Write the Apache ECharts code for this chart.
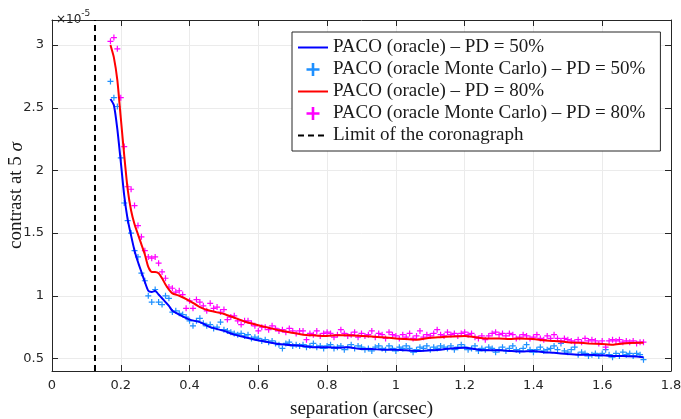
<!DOCTYPE html>
<html>
<head>
<meta charset="utf-8">
<title>contrast vs separation</title>
<script src="https://cdn.jsdelivr.net/npm/echarts@6/dist/echarts.min.js"></script>
<style>
html, body { margin: 0; padding: 0; background: #fff; }
#chart { width: 681px; height: 419px; }
</style>
</head>
<body>
<div id="chart"></div>
<script>
// smooth curves (contrast in units of 1e-5)
var lineSep = [0.17, 0.18, 0.19, 0.20, 0.21, 0.22, 0.23, 0.24, 0.25, 0.26,
  0.27, 0.28, 0.29, 0.30, 0.31, 0.32, 0.33, 0.34, 0.35,
  0.37, 0.40, 0.43, 0.46, 0.50, 0.53, 0.56, 0.60, 0.63, 0.66,
  0.70, 0.73, 0.76, 0.80, 0.83, 0.86, 0.90, 0.93, 0.96, 1.00,
  1.03, 1.06, 1.10, 1.13, 1.16, 1.20, 1.23, 1.26, 1.30, 1.33,
  1.36, 1.40, 1.43, 1.46, 1.50, 1.53, 1.56, 1.60, 1.63, 1.66,
  1.70, 1.72];
var oracle50 = [2.57, 2.52, 2.33, 2.07, 1.80, 1.61, 1.48, 1.36, 1.27, 1.19,
  1.11, 1.04, 1.03, 1.04, 1.01, 0.98, 0.95, 0.92, 0.88,
  0.85, 0.81, 0.79, 0.75, 0.72, 0.69, 0.67, 0.645, 0.63, 0.615,
  0.605, 0.60, 0.59, 0.59, 0.585, 0.59, 0.575, 0.575, 0.57, 0.57,
  0.565, 0.56, 0.565, 0.57, 0.58, 0.585, 0.575, 0.565, 0.565, 0.56,
  0.555, 0.56, 0.55, 0.545, 0.535, 0.53, 0.53, 0.525, 0.52, 0.52,
  0.515, 0.51];
var oracle80 = [3.00, 2.90, 2.72, 2.42, 2.12, 1.85, 1.68, 1.57, 1.49, 1.41,
  1.33, 1.23, 1.19, 1.19, 1.18, 1.14, 1.09, 1.05, 1.02,
  1.00, 0.96, 0.91, 0.88, 0.855, 0.825, 0.795, 0.765, 0.745, 0.725,
  0.705, 0.69, 0.685, 0.68, 0.685, 0.685, 0.68, 0.675, 0.67, 0.66,
  0.655, 0.65, 0.665, 0.67, 0.675, 0.68, 0.67, 0.66, 0.66, 0.655,
  0.66, 0.655, 0.645, 0.64, 0.63, 0.625, 0.62, 0.615, 0.61, 0.62,
  0.625, 0.625];

// monte carlo points
var mcSep = [0.17, 0.18, 0.19, 0.20, 0.21, 0.22, 0.23, 0.24, 0.25, 0.26,
  0.27, 0.28, 0.29, 0.30, 0.31, 0.32, 0.33, 0.34, 0.35, 0.36,
  0.37, 0.38, 0.39, 0.40, 0.41, 0.42, 0.43, 0.44, 0.45, 0.46,
  0.47, 0.48, 0.49, 0.50, 0.51, 0.52, 0.53, 0.54, 0.55, 0.56,
  0.57, 0.58, 0.59, 0.60, 0.61, 0.62, 0.63, 0.64, 0.65, 0.66,
  0.67, 0.68, 0.69, 0.70, 0.71, 0.72, 0.73, 0.74, 0.75, 0.76,
  0.77, 0.78, 0.79, 0.80, 0.81, 0.82, 0.83, 0.84, 0.85, 0.86,
  0.87, 0.88, 0.89, 0.90, 0.91, 0.92, 0.93, 0.94, 0.95, 0.96,
  0.97, 0.98, 0.99, 1.00, 1.01, 1.02, 1.03, 1.04, 1.05, 1.06,
  1.07, 1.08, 1.09, 1.10, 1.11, 1.12, 1.13, 1.14, 1.15, 1.16,
  1.17, 1.18, 1.19, 1.20, 1.21, 1.22, 1.23, 1.24, 1.25, 1.26,
  1.27, 1.28, 1.29, 1.30, 1.31, 1.32, 1.33, 1.34, 1.35, 1.36,
  1.37, 1.38, 1.39, 1.40, 1.41, 1.42, 1.43, 1.44, 1.45, 1.46,
  1.47, 1.48, 1.49, 1.50, 1.51, 1.52, 1.53, 1.54, 1.55, 1.56,
  1.57, 1.58, 1.59, 1.60, 1.61, 1.62, 1.63, 1.64, 1.65, 1.66,
  1.67, 1.68, 1.69, 1.70, 1.71, 1.72];
var mc50 = [2.71, 2.58, 2.51, 2.10, 1.74, 1.60, 1.50, 1.36, 1.31, 1.18,
  1.12, 1.00, 0.95, 1.05, 0.95, 0.93, 1.00, 0.98, 0.87, 0.88,
  0.86, 0.85, 0.83, 0.80, 0.76, 0.80, 0.82, 0.78, 0.76, 0.77,
  0.74, 0.75, 0.79, 0.73, 0.72, 0.71, 0.70, 0.69, 0.70, 0.68,
  0.69, 0.66, 0.67, 0.66, 0.64, 0.65, 0.63, 0.64, 0.62, 0.61,
  0.58, 0.62, 0.63, 0.60, 0.61, 0.60, 0.61, 0.59, 0.60, 0.62,
  0.59, 0.60, 0.58, 0.60, 0.61, 0.58, 0.59, 0.60, 0.57, 0.59,
  0.61, 0.58, 0.60, 0.59, 0.57, 0.58, 0.56, 0.59, 0.60, 0.58,
  0.57, 0.60, 0.58, 0.56, 0.59, 0.58, 0.60, 0.58, 0.55, 0.57,
  0.59, 0.58, 0.60, 0.57, 0.59, 0.58, 0.60, 0.59, 0.58, 0.60,
  0.57, 0.59, 0.61, 0.59, 0.57, 0.58, 0.60, 0.56, 0.58, 0.57,
  0.59, 0.58, 0.55, 0.57, 0.59, 0.56, 0.58, 0.60, 0.57, 0.56,
  0.58, 0.61, 0.57, 0.55, 0.57, 0.59, 0.56, 0.57, 0.58, 0.60,
  0.57, 0.62, 0.56, 0.55, 0.57, 0.59, 0.53, 0.55, 0.54, 0.52,
  0.53, 0.54, 0.52, 0.54, 0.57, 0.53, 0.51, 0.54, 0.52, 0.55,
  0.53, 0.54, 0.52, 0.54, 0.53, 0.49];
var mc80 = [3.03, 3.06, 2.97, 2.58, 2.19, 1.87, 1.85, 1.72, 1.56, 1.47,
  1.36, 1.31, 1.30, 1.31, 1.26, 1.19, 1.14, 1.07, 1.06, 1.03,
  1.04, 1.01, 0.90, 0.96, 0.90, 0.97, 0.95, 0.92, 0.88, 0.94,
  0.90, 0.91, 0.87, 0.89, 0.81, 0.83, 0.84, 0.80, 0.77, 0.80,
  0.80, 0.78, 0.76, 0.72, 0.75, 0.75, 0.73, 0.76, 0.74, 0.72,
  0.73, 0.71, 0.74, 0.72, 0.70, 0.72, 0.72, 0.65, 0.70, 0.69,
  0.72, 0.68, 0.70, 0.71, 0.70, 0.67, 0.69, 0.73, 0.70, 0.68,
  0.69, 0.71, 0.67, 0.70, 0.68, 0.69, 0.72, 0.67, 0.70, 0.69,
  0.66, 0.71, 0.69, 0.68, 0.66, 0.69, 0.67, 0.70, 0.66, 0.68,
  0.72, 0.67, 0.69, 0.68, 0.70, 0.73, 0.69, 0.68, 0.71, 0.69,
  0.70, 0.68, 0.70, 0.71, 0.69, 0.70, 0.67, 0.66, 0.68, 0.65,
  0.68, 0.70, 0.71, 0.69, 0.70, 0.68, 0.70, 0.69, 0.66, 0.67,
  0.69, 0.68, 0.66, 0.67, 0.69, 0.66, 0.65, 0.68, 0.66, 0.69,
  0.66, 0.64, 0.66, 0.65, 0.64, 0.63, 0.65, 0.63, 0.66, 0.64,
  0.65, 0.64, 0.62, 0.64, 0.59, 0.64, 0.65, 0.64, 0.65, 0.63,
  0.64, 0.63, 0.64, 0.62, 0.63, 0.63];

var coronaLimit = 0.125;
var yTicks = [0.5, 1, 1.5, 2, 2.5, 3];

var names = [
  'PACO (oracle) – PD = 50%',
  'PACO (oracle Monte Carlo) – PD = 50%',
  'PACO (oracle) – PD = 80%',
  'PACO (oracle Monte Carlo) – PD = 80%',
  'Limit of the coronagraph'
];

function pairs(xs, ys) {
  return xs.map(function (x, i) { return [x, ys[i]]; });
}

var plus = 'path://M4,0H6V4H10V6H6V10H4V6H0V4H4Z';
var axisColor = '#262626';
var serif = '"Liberation Serif", "DejaVu Serif", serif';
var sans = '"DejaVu Sans", sans-serif';

var myChart = echarts.init(document.getElementById('chart'));

var baseX = {
  type: 'value', min: 0, max: 1.8, interval: 0.2,
  axisLine: { show: true, onZero: false, lineStyle: { color: axisColor, width: 1 } },
  axisTick: { show: true, inside: true, length: 6, lineStyle: { color: axisColor } }
};
var baseY = {
  type: 'value', min: 0.4, max: 3.2,
  axisLine: { show: true, onZero: false, lineStyle: { color: axisColor, width: 1 } },
  axisTick: { show: true, inside: true, length: 6, customValues: yTicks, lineStyle: { color: axisColor } }
};

// line series get no marker in the legend, only the stroke
var hideMarker = { opacity: 0 };

var option = {
  animation: false,
  title: {
    text: '{a|×10}{b|-5}',
    left: 51, top: 1,
    textStyle: {
      rich: {
        a: { fontFamily: sans, fontSize: 12, fontWeight: 'normal', color: axisColor, padding: [8, 0, 0, 0] },
        b: { fontFamily: sans, fontSize: 9, fontWeight: 'normal', color: axisColor, padding: [0, 0, 4, 0] }
      }
    }
  },
  grid: { left: 52, right: 10, top: 20, bottom: 48, containLabel: false, outerBoundsMode: 'none' },
  legend: {
    data: [
      { name: names[0], itemStyle: hideMarker },
      { name: names[1] },
      { name: names[2], itemStyle: hideMarker },
      { name: names[3] },
      { name: names[4], itemStyle: hideMarker }
    ],
    orient: 'vertical',
    left: 292, top: 32,
    padding: [6, 15, 6, 5],
    itemGap: 3,
    itemWidth: 30,
    itemHeight: 13,
    backgroundColor: '#fff',
    borderColor: axisColor,
    borderWidth: 1,
    borderRadius: 0,
    textStyle: { fontFamily: serif, fontSize: 19, color: '#1a1a1a', lineHeight: 19 }
  },
  xAxis: [
    Object.assign({}, baseX, {
      position: 'bottom',
      name: 'separation (arcsec)',
      nameLocation: 'middle',
      nameGap: 29,
      nameTextStyle: { fontFamily: serif, fontSize: 19, color: '#1a1a1a' },
      axisLabel: { fontFamily: sans, fontSize: 13, color: axisColor, margin: 8 },
      splitLine: { show: true, lineStyle: { color: '#ebebeb', width: 1 } }
    }),
    Object.assign({}, baseX, {
      position: 'top',
      axisLabel: { show: false },
      splitLine: { show: false }
    })
  ],
  yAxis: [
    Object.assign({}, baseY, {
      position: 'left',
      name: '{n|contrast at 5 }{s|σ}',
      nameLocation: 'middle',
      nameGap: 26,
      nameMoveOverlap: false,
      nameTextStyle: {
        rich: {
          n: { fontFamily: serif, fontSize: 19, color: '#1a1a1a' },
          s: { fontFamily: serif, fontSize: 19, fontStyle: 'italic', color: '#1a1a1a' }
        }
      },
      axisLabel: { fontFamily: sans, fontSize: 13, color: axisColor, margin: 8, customValues: yTicks },
      splitLine: { show: true, lineStyle: { color: '#ebebeb', width: 1 } }
    }),
    Object.assign({}, baseY, {
      position: 'right',
      axisLabel: { show: false },
      splitLine: { show: false }
    })
  ],
  series: [
    {
      name: names[0], type: 'line', z: 4,
      data: pairs(lineSep, oracle50),
      symbol: 'none', smooth: 0.2,
      itemStyle: { color: '#0000ff' },
      lineStyle: { color: '#0000ff', width: 2 }
    },
    {
      name: names[1], type: 'scatter', z: 3,
      data: pairs(mcSep, mc50),
      symbol: plus, symbolSize: 6,
      itemStyle: { color: '#1e90ff', opacity: 1 }
    },
    {
      name: names[2], type: 'line', z: 4,
      data: pairs(lineSep, oracle80),
      symbol: 'none', smooth: 0.2,
      itemStyle: { color: '#ff0000' },
      lineStyle: { color: '#ff0000', width: 2 }
    },
    {
      name: names[3], type: 'scatter', z: 3,
      data: pairs(mcSep, mc80),
      symbol: plus, symbolSize: 6,
      itemStyle: { color: '#ff00ff', opacity: 1 }
    },
    {
      name: names[4], type: 'line', z: 4,
      data: [[coronaLimit, 0.4], [coronaLimit, 3.2]],
      symbol: 'none',
      itemStyle: { color: '#000' },
      lineStyle: { color: '#000', width: 2, type: [6, 4] }
    }
  ]
};

myChart.setOption(option);
window.addEventListener('resize', function () { myChart.resize(); });
</script>
</body>
</html>
